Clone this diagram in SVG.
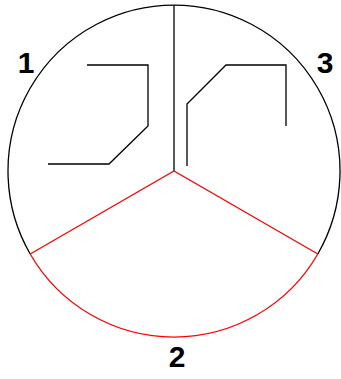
<svg xmlns="http://www.w3.org/2000/svg" width="341" height="379" viewBox="0 0 341 379">
<style>
.blk{fill:none;stroke:#000;stroke-width:1.3}
.red{fill:none;stroke:#ff0000;stroke-width:1.3}
.lbl{font-family:"Liberation Sans",Arial,sans-serif;font-size:30px;font-weight:bold;fill:#000;text-anchor:middle}
</style>
<rect width="341" height="379" fill="#fff"/>
<g id="circle">
<path class="blk" d="M30.2,254 A166,166 0 1 1 317.8,254"/>
<path class="red" d="M30.2,254 A166,166 0 0 0 317.8,254"/>
</g>
<g id="connectors">
<line class="blk" x1="174" y1="5" x2="174" y2="171"/>
<polyline class="red" points="30.2,254 174,171 317.8,254"/>
</g>
<g id="shape1">
<polyline class="blk" points="87,65 148,65 148,126 109,164 48,164"/>
</g>
<g id="shape3">
<polyline class="blk" points="187,166 187,104 226,65 286,65 286,126"/>
</g>
<g id="labels">
<text class="lbl" x="26" y="73">1</text>
<text class="lbl" x="325" y="73">3</text>
<text class="lbl" x="177" y="367">2</text>
</g>
</svg>
